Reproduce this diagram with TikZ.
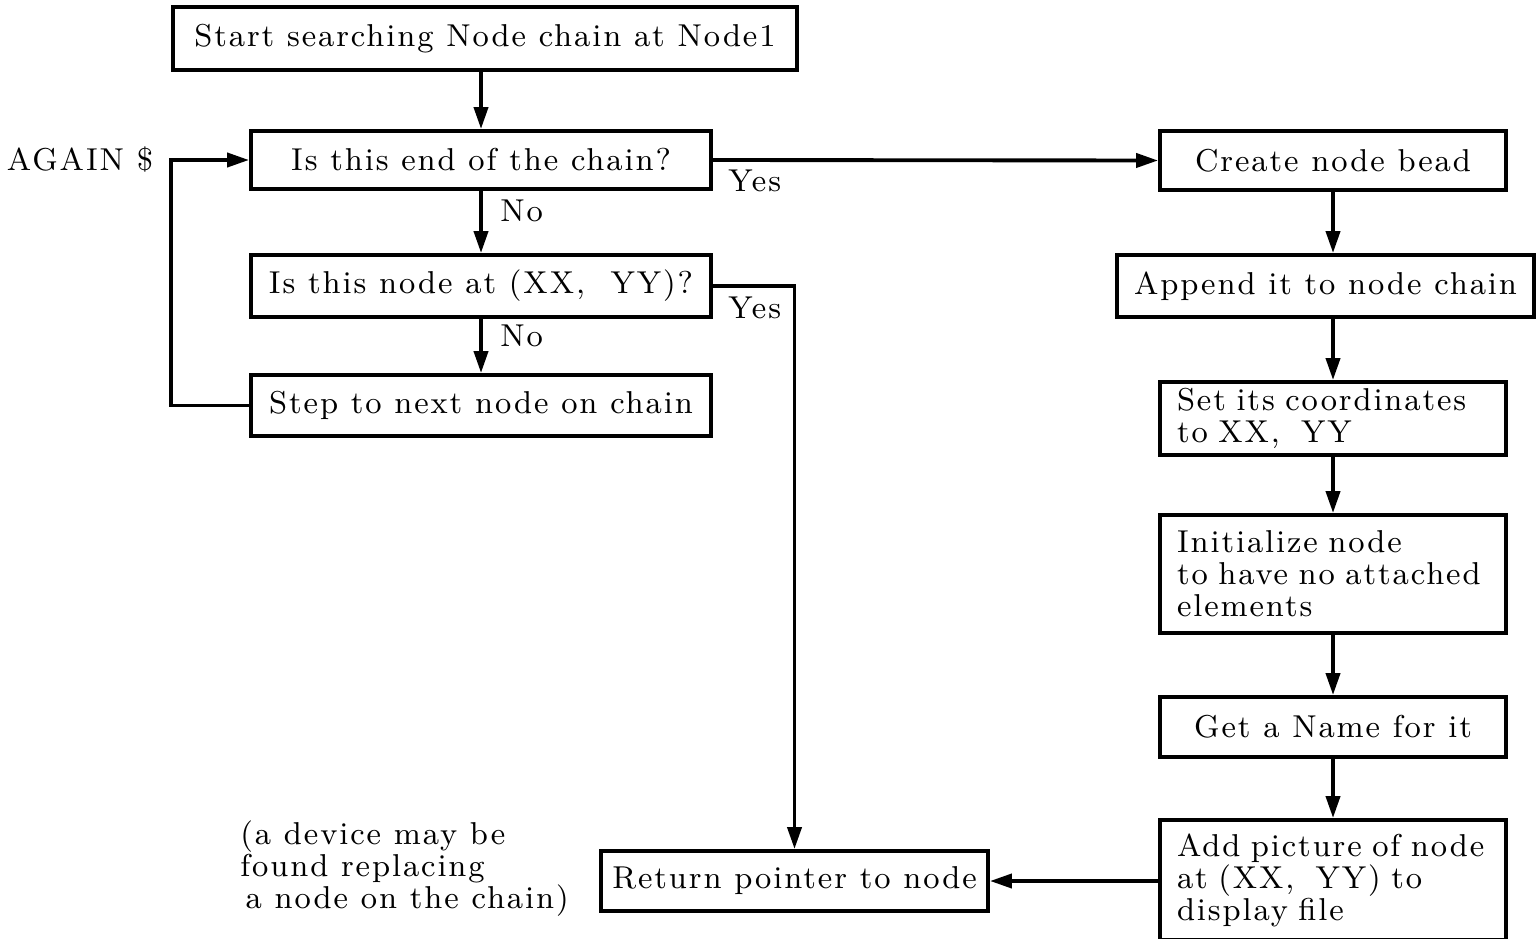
\documentclass[tikz,border=0pt]{standalone}
\usepackage{fontspec}
\setmainfont{Latin Modern Roman}[LetterSpace=6]
\usetikzlibrary{arrows.meta,positioning}

\begin{document}
\begin{tikzpicture}[
    font=\fontsize{9}{9.1}\selectfont,
    box/.style={draw, line width=1.1pt, inner sep=0pt, minimum height=0.6cm},
    mbox/.style={box, align=left, inner xsep=0.17cm, text width=3.12cm},
    flow/.style={line width=1.1pt, -{Triangle[length=2.2mm,width=1.4mm]}}]
			\useasboundingbox (0,0) rectangle (15.36,-9.38);
			% search loop
			\node[box, minimum width=6.24cm, minimum height=0.63cm] (start) at (4.85,-0.385) {Start searching Node chain at Node1};
			\node[box, minimum width=4.6cm, minimum height=0.58cm] (endq) at (4.81,-1.60) {Is this end of the chain?};
			\node[box, minimum width=4.6cm, minimum height=0.62cm] (atq) at (4.81,-2.86) {Is this node at (XX,~~YY)?};
			\node[box, minimum width=4.6cm, minimum height=0.61cm] (stepnext) at (4.81,-4.055) {Step to next node on chain};
			\node (again) at (0.80,-1.60) {AGAIN \$};
			% new node branch
			\node[box, minimum width=3.46cm, minimum height=0.59cm] (create) at (13.33,-1.605) {Create node bead};
			\node[box, minimum width=4.17cm, minimum height=0.62cm] (append) at (13.255,-2.86) {Append it to node chain};
			\node[mbox, minimum height=0.73cm] (setc) at (13.33,-4.185) {Set its coordinates\\to XX,~~YY};
			\node[mbox, minimum height=1.18cm] (init) at (13.33,-5.74) {Initialize node\\to have no attached\\elements};
			\node[box, minimum width=3.46cm] (getname) at (13.33,-7.27) {Get a Name for it};
			\node[mbox, minimum height=1.2cm] (addpic) at (13.33,-8.80) {Add picture of node\\at (XX,~~YY) to\\display file};
			\node[box, minimum width=3.87cm] (ret) at (7.945,-8.81) {Return pointer to node};
			\node[align=left, anchor=west] (note) at (2.28,-8.69) {(a device may be\\found replacing\\\,a node on the chain)};
			% connectors
			\draw[flow] (start.south -| endq) -- (endq.north);
			\draw[flow] (endq) -- (atq);
			\draw[flow] (atq) -- (stepnext);
			\draw[flow] (stepnext.west) -- ++(-0.78,0) |- (endq.west);
			\draw[flow] (endq.east) -- (create.west);
			\draw[flow] (atq.east) -| (ret.north);
			\draw[flow] (addpic.west |- ret.east) -- (ret.east);
			\foreach \a/\b in {create/append, append/setc, setc/init, init/getname, getname/addpic}
				\draw[flow] (\a.south -| create) -- (\b.north -| create);
			% branch labels
			\node[anchor=west] (yes1) at (7.16,-1.81) {Yes};
			\node[anchor=west] (no1) at (4.88,-2.11) {No};
			\node[anchor=west] (yes2) at (7.16,-3.08) {Yes};
			\node[anchor=west] (no2) at (4.88,-3.36) {No};
		\end{tikzpicture}
\end{document}
